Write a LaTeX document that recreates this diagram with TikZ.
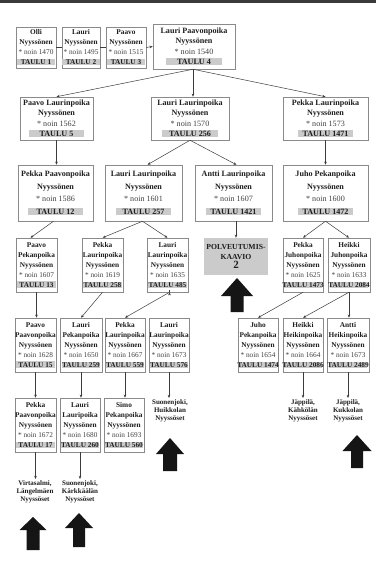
\documentclass[tikz,border=0pt]{standalone}
\usepackage{fontspec}
\setmainfont{Liberation Serif}
\usetikzlibrary{arrows.meta,calc}
\definecolor{txt}{HTML}{1E1E1E}
\definecolor{noinc}{HTML}{404040}
\definecolor{boxc}{HTML}{8A8A8A}
\definecolor{barc}{HTML}{CBCBCB}
\definecolor{linec}{HTML}{3C3C3C}
\definecolor{blk}{HTML}{151515}
\definecolor{band}{HTML}{3A3A3A}
\newcommand{\tbar}[2]{{\setlength{\fboxsep}{0.7pt}\colorbox{barc}{\makebox[#1][c]{#2}}}}
\newcommand{\tn}[1]{\tbar{37pt}{#1}}
\newcommand{\tw}[1]{\tbar{54pt}{#1}}
\newcommand{\noin}[1]{{\mdseries\color{noinc}* noin #1}}
\newcommand{\pbox}[7]{\node[#6, minimum width={#3pt-#2pt}, minimum height={#5pt-#4pt}] (#1) at ({(#2+#3)/2},{(#4+#5)/2}) {#7};}
\newcommand{\bigarrow}[6]{\fill[blk] (#1,#2) -- ({#1+#3},{#2+#4}) -- ({#1+#5},{#2+#4}) -- ({#1+#5},{#2+#6}) -- ({#1-#5},{#2+#6}) -- ({#1-#5},{#2+#4}) -- ({#1-#3},{#2+#4}) -- cycle;}
\tikzset{
  pbase/.style={draw=boxc, line width=0.5pt, fill=white, inner xsep=0pt, inner ysep=1pt, align=center, text=txt},
  nbox/.style={pbase, font=\fontsize{7.3}{10}\selectfont\bfseries},
  wbox/.style={pbase, font=\fontsize{8.1}{10.4}\selectfont\bfseries},
  wboxtall/.style={pbase, font=\fontsize{8.1}{12.6}\selectfont\bfseries},
  kbox/.style={fill=barc, inner sep=0pt, align=center, text=txt, font=\fontsize{7.7}{9.5}\selectfont\bfseries},
  place/.style={inner sep=1pt, align=center, text=txt, anchor=north, font=\fontsize{7}{8.4}\selectfont\bfseries},
  conn/.style={draw=linec, line width=0.5pt},
  arr/.style={conn, -{Stealth[length=3.2pt,width=2.6pt]}}
}
\begin{document}
\begin{tikzpicture}[x=1pt,y=-1pt]
\fill[white] (0,0) rectangle (376,569);
\useasboundingbox (0,0) rectangle (376,569);
\fill[band] (0,0) rectangle (376,3);

% Row 1
\pbox{b1}{16}{56}{27}{68}{nbox}{Olli\\Nyyssönen\\\noin{1470}\\\tn{TAULU 1}}
\pbox{b2}{62}{100}{27}{68}{nbox}{Lauri\\Nyyssönen\\\noin{1495}\\\tn{TAULU 2}}
\pbox{b3}{106}{146}{27}{68}{nbox}{Paavo\\Nyyssönen\\\noin{1515}\\\tn{TAULU 3}}
\pbox{b4}{153}{235}{24}{69}{wbox}{Lauri Paavonpoika\\Nyyssönen\\\noin{1540}\\\tw{TAULU 4}}

% Row 2
\pbox{c1}{20}{93}{97}{140}{wbox}{Paavo Laurinpoika\\Nyyssönen\\\noin{1562}\\\tw{TAULU 5}}
\pbox{c2}{151}{229}{97}{140}{wbox}{Lauri Laurinpoika\\Nyyssönen\\\noin{1570}\\\tw{TAULU 256}}
\pbox{c3}{283}{368}{97}{140}{wbox}{Pekka Laurinpoika\\Nyyssönen\\\noin{1573}\\\tw{TAULU 1471}}

% Row 3
\pbox{d1}{18}{93}{165}{221}{wboxtall}{Pekka Paavonpoika\\Nyyssönen\\\noin{1586}\\\tw{TAULU 12}}
\pbox{d2}{105}{182}{165}{221}{wboxtall}{Lauri Laurinpoika\\Nyyssönen\\\noin{1601}\\\tw{TAULU 257}}
\pbox{d3}{195}{272}{165}{221}{wboxtall}{Antti Laurinpoika\\Nyyssönen\\\noin{1607}\\\tw{TAULU 1421}}
\pbox{d4}{283}{368}{165}{221}{wboxtall}{Juho Pekanpoika\\Nyyssönen\\\noin{1600}\\\tw{TAULU 1472}}

% Row 4
\pbox{e1}{16}{57}{238}{292}{nbox}{Paavo\\Pekanpoika\\Nyyssönen\\\noin{1607}\\\tn{TAULU 13}}
\pbox{e2}{82}{123}{238}{292}{nbox}{Pekka\\Laurinpoika\\Nyyssönen\\\noin{1619}\\\tn{TAULU 258}}
\pbox{e3}{147}{188}{238}{292}{nbox}{Lauri\\Laurinpoika\\Nyyssönen\\\noin{1635}\\\tn{TAULU 485}}
\node[kbox, minimum width=64pt, minimum height=37pt] (e4) at (236,256.5) {POLVEUTUMIS-\\KAAVIO\\{\fontsize{11}{11}\selectfont 2}};
\pbox{e5}{283}{323}{238}{292}{nbox}{Pekka\\Juhonpoika\\Nyyssönen\\\noin{1625}\\\tn{TAULU 1473}}
\pbox{e6}{328}{370}{238}{292}{nbox}{Heikki\\Juhonpoika\\Nyyssönen\\\noin{1633}\\\tn{TAULU 2084}}

% Row 5
\pbox{f1}{16}{55}{318}{372}{nbox}{Paavo\\Paavonpoika\\Nyyssönen\\\noin{1628}\\\tn{TAULU 15}}
\pbox{f2}{60}{102}{318}{372}{nbox}{Lauri\\Pekanpoika\\Nyyssönen\\\noin{1650}\\\tn{TAULU 259}}
\pbox{f3}{105}{145}{318}{372}{nbox}{Pekka\\Laurinpoika\\Nyyssönen\\\noin{1667}\\\tn{TAULU 559}}
\pbox{f4}{149}{189}{318}{372}{nbox}{Lauri\\Laurinpoika\\Nyyssönen\\\noin{1673}\\\tn{TAULU 576}}
\pbox{f5}{238}{278}{318}{372}{nbox}{Juho\\Pekanpoika\\Nyyssönen\\\noin{1654}\\\tn{TAULU 1474}}
\pbox{f6}{283}{323}{318}{372}{nbox}{Heikki\\Heikinpoika\\Nyyssönen\\\noin{1664}\\\tn{TAULU 2086}}
\pbox{f7}{327}{369}{318}{372}{nbox}{Antti\\Heikinpoika\\Nyyssönen\\\noin{1673}\\\tn{TAULU 2489}}

% Row 6
\pbox{g1}{16}{55}{398}{452}{nbox}{Pekka\\Paavonpoika\\Nyyssönen\\\noin{1672}\\\tn{TAULU 17}}
\pbox{g2}{60}{100}{398}{452}{nbox}{Lauri\\Lauripoika\\Nyyssönen\\\noin{1680}\\\tn{TAULU 260}}
\pbox{g3}{104}{144}{398}{452}{nbox}{Simo\\Pekanpoika\\Nyyssönen\\\noin{1693}\\\tn{TAULU 560}}
\node[place] (g4) at (170,398) {Suonenjoki,\\Huikkolan\\Nyyssöset};
\node[place] (g5) at (303,398) {Jäppilä,\\Kähkölän\\Nyyssöset};
\node[place] (g6) at (348,398) {Jäppilä,\\Kukkolan\\Nyyssöset};

% Row 7
\node[place] (h1) at (35,479) {Virtasalmi,\\Längelmäen\\Nyyssöset};
\node[place] (h2) at (80,479) {Suonenjoki,\\Kärkkäälän\\Nyyssöset};

% Connectors
\draw[conn] (b1.east) -- (b2.west);
\draw[conn] (b2.east) -- (b3.west);
\draw[arr] (b3.east) -- (b4.west);
\coordinate (b4s) at ($(b4.south)+(-1,0)$);
\draw[arr] (b4s) -- (c1.north);
\draw[arr] (b4s) -- (b4s |- c2.north);
\draw[arr] (b4s) -- (c3.north);
\draw[arr] (c1.south) -- (c1.south |- d1.north);
\draw[arr] (c2.south) -- ($(d2.north)+(4,0)$);
\draw[arr] (c2.south) -- ($(d3.north)+(3,0)$);
\draw[arr] (c3.south) -- (c3.south |- d4.north);
\draw[arr] ($(d1.south)+(-2,0)$) -- ($(e1.north)+(-6,0)$);
\draw[arr] ($(d2.south)+(-1,0)$) -- (e2.north);
\draw[arr] ($(d2.south)+(-1,0)$) -- (e3.north);
\draw[arr] (e4.north |- d3.south) -- (e4.north);
\draw[arr] (d4.south) -- (e5.north);
\draw[arr] (d4.south) -- (e6.north);
\draw[arr] (e1.south) -- (e1.south |- f1.north);
\draw[arr] (e2.south) -- (f2.north);
\draw[arr] ($(e3.south)+(2,0)$) -- (f3.north);
\draw[arr] ($(e3.south)+(2,0)$) -- ($(e3.south)+(2,0)$ |- f4.north);
\draw[arr] (e5.south) -- (f5.north);
\draw[arr] (e6.south) -- (f6.north);
\draw[arr] (e6.south) -- (e6.south |- f7.north);
\draw[arr] (f1.south) -- (f1.south |- g1.north);
\draw[arr] (f2.south) -- (f2.south |- g2.north);
\draw[arr] (f3.south) -- (f3.south |- g3.north);
\draw[arr] (f4.south) -- (f4.south |- g4.north);
\draw[arr] (f6.south) -- (f6.south |- g5.north);
\draw[arr] (f7.south) -- (f7.south |- g6.north);
\draw[arr] (g1.south) -- (g1.south |- h1.north);
\draw[arr] (g2.south) -- (g2.south |- h2.north);

% Big arrows
\bigarrow{237}{278}{16}{18}{6.5}{34}
\bigarrow{170}{438}{14}{16}{7}{33}
\bigarrow{357}{435}{14.5}{16}{6}{33}
\bigarrow{33}{517}{13.5}{13}{6.5}{33}
\bigarrow{79}{513}{14}{15}{6}{34}
\end{tikzpicture}
\end{document}
